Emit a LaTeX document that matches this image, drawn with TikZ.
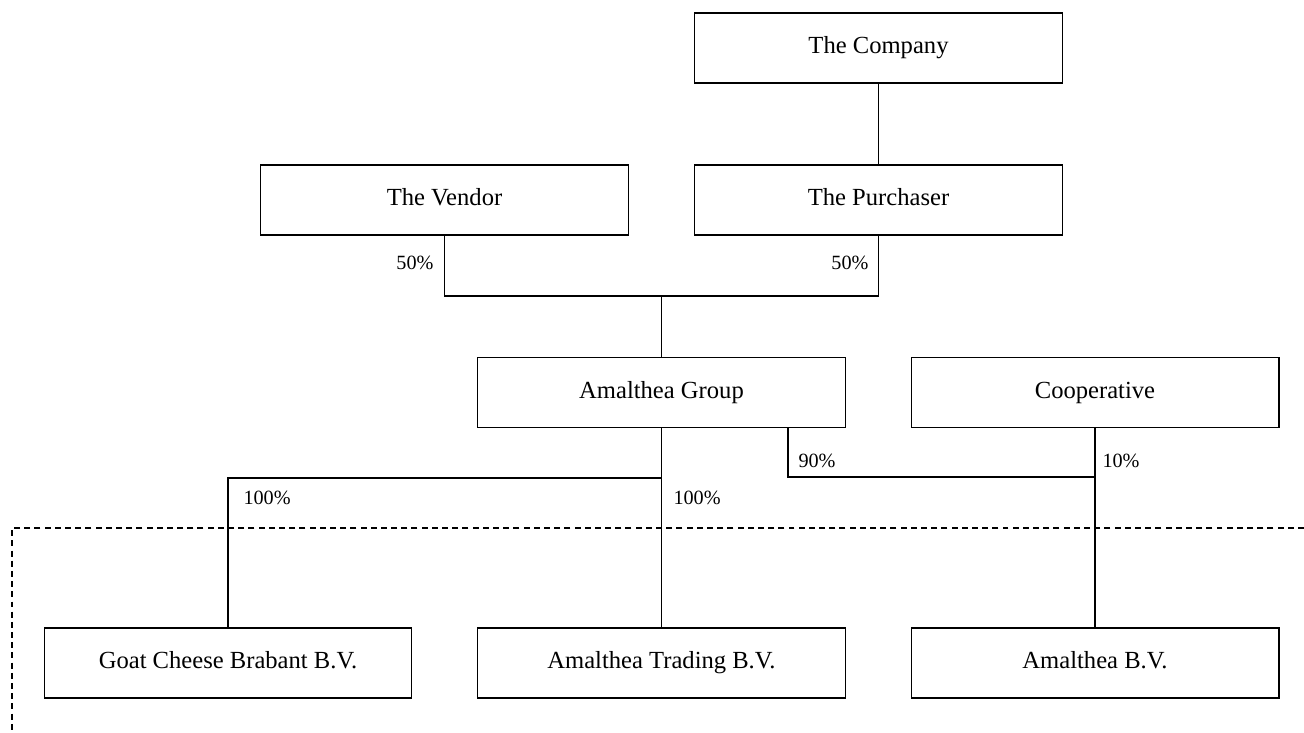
\documentclass[tikz,border=0pt]{standalone}
\usepackage{fontspec}
\setmainfont{Liberation Serif}
\usetikzlibrary{positioning}

\begin{document}
\begin{tikzpicture}[x=0.02cm,y=-0.02cm,line width=0.6pt,
    entity/.style={rectangle,draw,minimum width=7.36cm,minimum height=1.4cm,inner sep=0pt,text height=9.5pt,text depth=3pt,font=\fontsize{14}{17}\selectfont},
    pct/.style={inner sep=0pt,font=\fontsize{11.5}{14}\selectfont}]

\useasboundingbox (0,0) rectangle (1304,733);

\node[entity] (company)  at (878.5,48)   {The Company};
\node[entity] (vendor)   at (444.5,200)  {The Vendor};
\node[entity] (purch)    at (878.5,200)  {The Purchaser};
\node[entity] (group)    at (661.5,392.5) {Amalthea Group};
\node[entity] (coop)     at (1095,392.5) {Cooperative};
\node[entity] (goat)     at (228,663)    {Goat Cheese Brabant B.V.};
\node[entity] (trading)  at (661.5,663)  {Amalthea Trading B.V.};
\node[entity] (amb)      at (1095,663)   {Amalthea B.V.};

\coordinate (j1)  at (661.5,296);
\coordinate (j2)  at (661.5,478);
\coordinate (g90) at (788,428);
\coordinate (j3)  at (1095,477);

\draw (company) -- (purch);
\draw (vendor.south) |- (j1) -| (purch.south);
\draw (j1) -- (group);
\draw (group) -- (trading);
\draw (j2) -| (goat.north);
\draw (g90) |- (j3);
\draw (coop) -- (amb);

\node[pct,anchor=east] (p50a)  at (434,263) {50\%};
\node[pct,anchor=east] (p50b)  at (869,263) {50\%};
\node[pct,anchor=west] (p100a) at (243,498) {100\%};
\node[pct,anchor=west] (p100b) at (673,498) {100\%};
\node[pct,anchor=west] (p90)   at (798,461) {90\%};
\node[pct,anchor=west] (p10)   at (1102,461) {10\%};

\draw[dashed,dash pattern=on 3.4pt off 2.4pt,line width=0.75pt] (1304,528) -| (12,733);
\end{tikzpicture}
\end{document}
